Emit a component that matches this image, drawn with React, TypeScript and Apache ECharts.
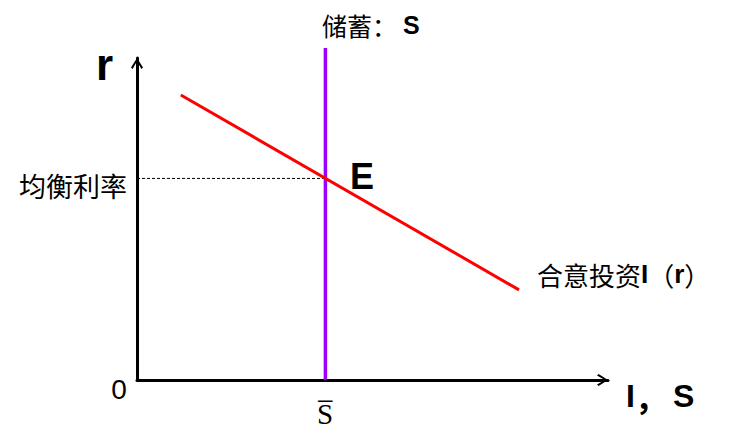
import React, { useEffect, useRef } from "react";
import * as echarts from "echarts";

// data (axis units: 0..100 on both axes)
const savingsLevel = 40; // S̄
const savingsLineY = [0, 103.1];
const equilibriumRate = 62.6;
const investmentX = [9.3, 81.1];
const investmentY = [88.5, 28.0];

const CJK = '"Noto Sans CJK SC", sans-serif';
const LATIN = '"Liberation Sans", Arial, sans-serif';
const SERIF = '"Liberation Serif", "DejaVu Serif", serif';

const arrowPath =
  "path://M6,0 L12,9.4 L10.4,11 L6,3.2 L1.6,11 L0,9.4 Z";

export default function App() {
  const ref = useRef<HTMLDivElement>(null);
  useEffect(() => {
    if (!ref.current) return;
    const chart = echarts.init(ref.current, null, { renderer: "svg" });
    const axisCommon = {
      type: "value" as const,
      min: 0,
      max: 100,
      axisLine: {
        show: true,
        symbol: ["none", arrowPath],
        symbolSize: [12, 11],
        symbolOffset: [0, -5.5],
        lineStyle: { color: "#000", width: 3 },
      },
      axisTick: { show: false },
      axisLabel: { show: false },
      splitLine: { show: false },
    };
    chart.setOption({
      animation: false,
      backgroundColor: "#fff",
      grid: { left: 137, right: 125, top: 58, bottom: 66 },
      xAxis: { ...axisCommon },
      yAxis: { ...axisCommon },
      series: [
        {
          name: "均衡利率",
          type: "line",
          symbol: "none",
          data: [
            [0, equilibriumRate],
            [savingsLevel, equilibriumRate],
          ],
          lineStyle: { color: "#000", width: 1, type: [3, 2] },
          z: 1,
        },
        {
          name: "储蓄",
          type: "line",
          symbol: "none",
          clip: false,
          data: savingsLineY.map((y) => [savingsLevel, y]),
          lineStyle: { color: "#9b00ff", width: 3.5 },
          z: 2,
        },
        {
          name: "合意投资",
          type: "line",
          symbol: "none",
          clip: false,
          data: investmentX.map((x, i) => [x, investmentY[i]]),
          lineStyle: { color: "#ff0000", width: 3 },
          z: 3,
        },
      ],
      graphic: [
        {
          type: "text",
          x: 322,
          y: 25,
          style: {
            text: "{a|储蓄：}{s|S}",
            verticalAlign: "middle",
            rich: {
              a: { fontFamily: CJK, fontSize: 25, fill: "#000" },
              s: {
                fontFamily: LATIN,
                fontSize: 25,
                fontWeight: "bold",
                fill: "#000",
                padding: [0, 0, 0, 6],
              },
            },
          },
        },
        {
          type: "text",
          x: 96,
          y: 64,
          style: {
            text: "r",
            fontFamily: LATIN,
            fontSize: 44,
            fontWeight: "bold",
            fill: "#000",
            verticalAlign: "middle",
          },
        },
        {
          type: "text",
          x: 127,
          y: 185,
          style: {
            text: "均衡利率",
            fontFamily: CJK,
            fontSize: 27,
            fill: "#000",
            align: "right",
            verticalAlign: "middle",
          },
        },
        {
          type: "text",
          x: 350,
          y: 176,
          style: {
            text: "E",
            fontFamily: LATIN,
            fontSize: 36,
            fontWeight: "bold",
            fill: "#000",
            verticalAlign: "middle",
          },
        },
        {
          type: "text",
          x: 537,
          y: 274,
          style: {
            text: "{a|合意投资}{b|I}{a|（}{b|r}{a|）}",
            verticalAlign: "middle",
            rich: {
              a: { fontFamily: CJK, fontSize: 26, fill: "#000" },
              b: { fontFamily: LATIN, fontSize: 26, fontWeight: "bold", fill: "#000" },
            },
          },
        },
        {
          type: "text",
          x: 119,
          y: 389,
          style: {
            text: "0",
            fontFamily: LATIN,
            fontSize: 28,
            fill: "#000",
            align: "center",
            verticalAlign: "middle",
          },
        },
        {
          type: "text",
          x: 325,
          y: 414,
          style: {
            text: "S\u0305",
            fontFamily: SERIF,
            fontSize: 29,
            fill: "#000",
            align: "center",
            verticalAlign: "middle",
          },
        },
        {
          type: "text",
          x: 626,
          y: 396,
          style: {
            text: "{b|I}{a|，}{c|S}",
            verticalAlign: "middle",
            rich: {
              a: { fontFamily: CJK, fontSize: 32, fontWeight: "bold", fill: "#000" },
              b: { fontFamily: LATIN, fontSize: 32, fontWeight: "bold", fill: "#000" },
              c: {
                fontFamily: LATIN,
                fontSize: 32,
                fontWeight: "bold",
                fill: "#000",
                padding: [0, 0, 0, 6],
              },
            },
          },
        },
      ],
    });
    return () => chart.dispose();
  }, []);
  return (
    <div
      ref={ref}
      style={{ position: "fixed", left: 0, top: 0, width: 733, height: 446, background: "#fff" }}
    />
  );
}
